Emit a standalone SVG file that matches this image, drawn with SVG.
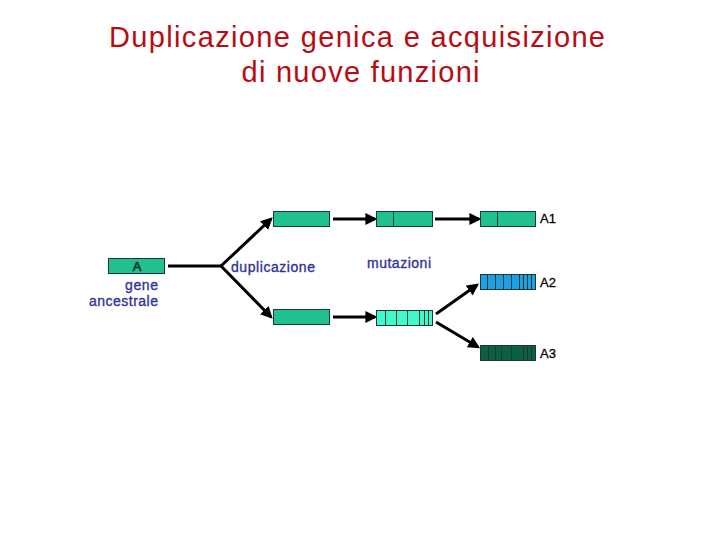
<svg xmlns="http://www.w3.org/2000/svg" width="720" height="540" viewBox="0 0 720 540">
<defs>
<marker id="ah" markerWidth="4" markerHeight="4" refX="3.2" refY="2" orient="auto" markerUnits="strokeWidth">
<path d="M0,0 L4,2 L0,4 Z" fill="#000"/>
</marker>
<style>
.title{font-family:"Liberation Sans",Arial,sans-serif;font-size:29px;fill:#b80c14;text-anchor:middle}
.lbl{font-family:"Liberation Sans",Arial,sans-serif;font-size:14px;fill:#333399;stroke:#333399;stroke-width:0.35}
.tag{font-family:"Liberation Sans",Arial,sans-serif;font-size:13px;fill:#000;stroke:#000;stroke-width:0.3}
.box{stroke:#1a3a30;stroke-width:1}
.teal{fill:#20c090}
.aqua{fill:#40f8cc}
.blue{fill:#1ea0e6}
.dark{fill:#0a5f46}
.div{stroke:#1a3a30;stroke-width:1}
.conn{stroke:#000;stroke-width:3;fill:none}
</style>
</defs>
<rect width="720" height="540" fill="#fff"/>
<g id="title">
<text class="title" x="357" y="47" textLength="496" lengthAdjust="spacing">Duplicazione genica e acquisizione</text>
<text class="title" x="360.5" y="82" textLength="238" lengthAdjust="spacing">di nuove funzioni</text>
</g>
<g id="connectors">
<polyline class="conn" points="168,266 221,266"/>
<line class="conn" x1="221" y1="266" x2="271" y2="219" marker-end="url(#ah)"/>
<line class="conn" x1="221" y1="266" x2="271" y2="317" marker-end="url(#ah)"/>
<line class="conn" x1="333" y1="219" x2="375" y2="219" marker-end="url(#ah)"/>
<line class="conn" x1="333" y1="317" x2="375" y2="317" marker-end="url(#ah)"/>
<line class="conn" x1="435" y1="219" x2="479" y2="219" marker-end="url(#ah)"/>
<line class="conn" x1="436" y1="314" x2="477" y2="285" marker-end="url(#ah)"/>
<line class="conn" x1="436" y1="322" x2="478" y2="347" marker-end="url(#ah)"/>
</g>
<g id="gene-A">
<rect class="box teal" x="108.5" y="258.5" width="56" height="15"/>
<text class="tag" x="137" y="270.5" text-anchor="middle" style="fill:#0a3020;stroke:#0a3020;stroke-width:0.6">A</text>
<text class="lbl" x="158" y="290" text-anchor="end" textLength="33" lengthAdjust="spacing">gene</text>
<text class="lbl" x="158" y="306" text-anchor="end" textLength="69" lengthAdjust="spacing">ancestrale</text>
</g>
<g id="label-duplicazione">
<text class="lbl" x="231" y="272" textLength="84" lengthAdjust="spacing">duplicazione</text>
</g>
<g id="label-mutazioni">
<text class="lbl" x="367" y="268" textLength="64" lengthAdjust="spacing">mutazioni</text>
</g>
<g id="copy-top">
<rect class="box teal" x="273.5" y="211.5" width="56" height="15"/>
</g>
<g id="copy-bottom">
<rect class="box teal" x="273.5" y="309.5" width="56" height="15"/>
</g>
<g id="mut-top">
<rect class="box teal" x="376.5" y="211.5" width="56" height="15"/>
<line class="div" x1="393.5" y1="211.5" x2="393.5" y2="226.5"/>
</g>
<g id="mut-bottom">
<rect class="box aqua" x="376.5" y="310.5" width="56" height="15"/>
<path class="div" d="M385.5,310.5V325.5M396.5,310.5V325.5M407.5,310.5V325.5M419.5,310.5V325.5M424.5,310.5V325.5M428.5,310.5V325.5"/>
</g>
<g id="A1">
<rect class="box teal" x="480.5" y="211.5" width="55" height="15"/>
<line class="div" x1="497.5" y1="211.5" x2="497.5" y2="226.5"/>
<text class="tag" x="540" y="223">A1</text>
</g>
<g id="A2">
<rect class="box blue" x="480.5" y="274.5" width="55" height="15"/>
<path class="div" d="M487.5,274.5V289.5M495.5,274.5V289.5M503.5,274.5V289.5M511.5,274.5V289.5M519.5,274.5V289.5M523.5,274.5V289.5M527.5,274.5V289.5M531.5,274.5V289.5"/>
<text class="tag" x="540" y="287">A2</text>
</g>
<g id="A3">
<rect class="box dark" x="480.5" y="345.5" width="55" height="15"/>
<path class="div" d="M488.5,345.5V360.5M495.5,345.5V360.5M501.5,345.5V360.5M511.5,345.5V360.5M523.5,345.5V360.5M527.5,345.5V360.5M531.5,345.5V360.5"/>
<text class="tag" x="540" y="358">A3</text>
</g>
</svg>
